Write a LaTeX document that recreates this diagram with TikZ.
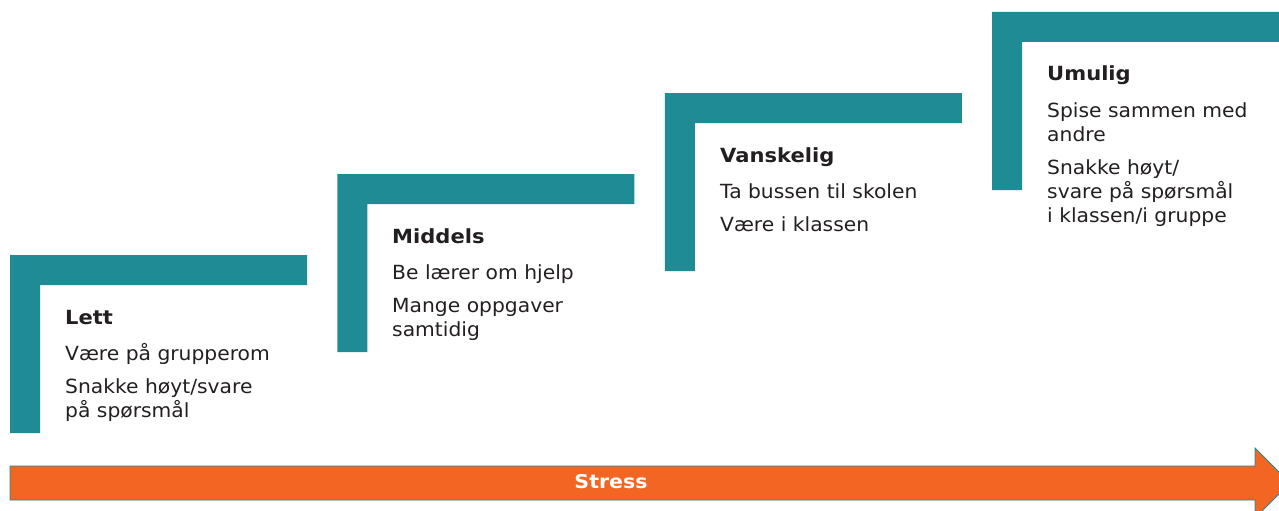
\documentclass[tikz,border=0pt]{standalone}
\usepackage{fontspec}
\setmainfont{DejaVu Sans}[FakeStretch=1.04,BoldFeatures={FakeStretch=1.08}]
\definecolor{teal}{HTML}{1F8B94}
\definecolor{stressorange}{HTML}{F26522}
\definecolor{txt}{HTML}{231F20}
\begin{document}
\begin{tikzpicture}[x=1pt,y=-1pt,
  stepshape/.style={fill=teal,draw=none},
  item/.style={anchor=base west,inner sep=0pt,font=\fontsize{19.5}{23}\selectfont,text=txt},
  title/.style={item,font=\fontsize{19.5}{23}\selectfont\bfseries}]
\useasboundingbox (0,0) rectangle (1279,511);
\clip (0,0) rectangle (1279,511);
% steps
\foreach \i in {0,1,2,3}{
  \pgfmathsetmacro{\dx}{327.4*\i}
  \pgfmathsetmacro{\dy}{-81*\i}
  \begin{scope}[shift={(\dx,\dy)}]
    \fill[stepshape] (10,255) -- (307,255) -- (307,285) -- (40,285) -- (40,433) -- (10,433) -- cycle;
  \end{scope}
}
% arrow
\filldraw[fill=stressorange,draw=teal,line width=0.8pt]
  (10,466) -- (1255,466) -- (1255,448) -- (1290,483) -- (1255,518) -- (1255,500) -- (10,500) -- cycle;
\node[anchor=base,inner sep=0pt,text=white,font=\fontsize{19}{22}\selectfont\bfseries] (stress) at (611,488) {Stress};
% texts
\node[title] (t1) at (65,324) {Lett};
\node[item] (t1a) at (65,360) {Være på grupperom};
\node[item] (t1b) at (65,393) {Snakke høyt/svare};
\node[item] (t1c) at (65,417) {på spørsmål};
\node[title] (t2) at (392,243) {Middels};
\node[item] (t2a) at (392,279) {Be lærer om hjelp};
\node[item] (t2b) at (392,312) {Mange oppgaver};
\node[item] (t2c) at (392,336) {samtidig};
\node[title] (t3) at (720,162) {Vanskelig};
\node[item] (t3a) at (720,198) {Ta bussen til skolen};
\node[item] (t3b) at (720,231) {Være i klassen};
\node[title] (t4) at (1047,81) {Umulig};
\node[item] (t4a) at (1047,117) {Spise sammen med};
\node[item] (t4b) at (1047,141) {andre};
\node[item] (t4c) at (1047,174) {Snakke høyt/};
\node[item] (t4d) at (1047,198) {svare på spørsmål};
\node[item] (t4e) at (1047,222) {i klassen/i gruppe};
\end{tikzpicture}
\end{document}
